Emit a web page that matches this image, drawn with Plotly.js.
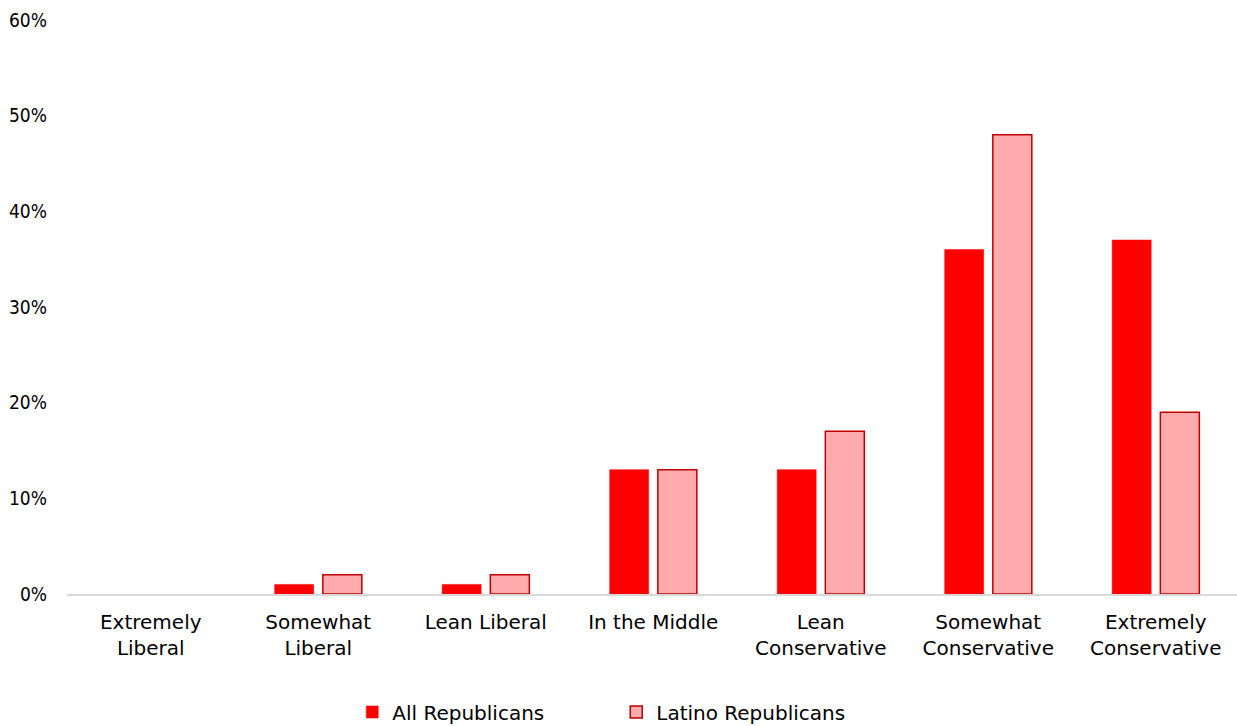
<!DOCTYPE html>
<html>
<head>
<meta charset="utf-8">
<script src="https://cdn.plot.ly/plotly-3.0.1.min.js"></script>
<style>html,body{margin:0;padding:0;background:#fff;}#chart{width:1237px;height:726px;}</style>
</head>
<body>
<div id="chart"></div>
<script>
const categories = ["Extremely<br>Liberal", "Somewhat<br>Liberal", "Lean Liberal", "In the Middle", "Lean<br>Conservative", "Somewhat<br>Conservative", "Extremely<br>Conservative"];
const allRepublicans = [0, 1, 1, 13, 13, 36, 37];
const latinoRepublicans = [0, 2, 2, 13, 17, 48, 19];
const yTicks = [0, 10, 20, 30, 40, 50, 60];
const seriesNames = ["All Republicans", "Latino Republicans"];

const FONT = "'DejaVu Sans', sans-serif";
const FONT_C = "'DejaVu Sans Condensed', 'DejaVu Sans', sans-serif";

// zero-valued bars are hidden (no stroke drawn at the baseline), as in the source chart
const nonZero = arr => arr.map((v, i) => v !== 0 ? i : -1).filter(i => i >= 0);

const data = [
  {
    type: "bar", name: seriesNames[0], x: categories, y: allRepublicans.map(v => v / 100),
    marker: {color: "#FF0000", line: {color: "#FF0000", width: 0.5}},
    selectedpoints: nonZero(allRepublicans),
    selected: {marker: {opacity: 1}}, unselected: {marker: {opacity: 0}},
    hoverinfo: "skip"
  },
  {
    type: "bar", name: seriesNames[1], x: categories, y: latinoRepublicans.map(v => v / 100),
    marker: {color: "#FFABAE", line: {color: "#C00000", width: 1.5}},
    selectedpoints: nonZero(latinoRepublicans),
    selected: {marker: {opacity: 1}}, unselected: {marker: {opacity: 0}},
    hoverinfo: "skip"
  }
];

const layout = {
  width: 1237, height: 726,
  margin: {l: 67, r: 0, t: 20, b: 132},
  paper_bgcolor: "#fff", plot_bgcolor: "#fff",
  font: {family: FONT, size: 20, color: "#000"},
  barmode: "group", bargap: 0.425, bargroupgap: 0.19,
  showlegend: true,
  legend: {
    orientation: "h", x: 0.2438, xanchor: "left", xref: "paper",
    y: 0.0193, yanchor: "middle", yref: "container",
    entrywidth: 219, entrywidthmode: "pixels",
    font: {family: FONT, size: 20, color: "#000"}, traceorder: "normal"
  },
  xaxis: {
    type: "category", range: [-0.5, 6.485], showgrid: false, zeroline: false,
    showline: true, linecolor: "#D9D9D9", linewidth: 1.5,
    ticks: "", ticklabelstandoff: 9, automargin: false,
    tickfont: {family: FONT, size: 20, color: "#000"},
    fixedrange: true
  },
  yaxis: {
    range: [0, 0.6], tickvals: yTicks.map(v => v / 100), ticktext: yTicks.map(v => v + "%"),
    showgrid: false, zeroline: false, showline: false, ticks: "",
    ticklabelstandoff: 19, automargin: false,
    tickfont: {family: FONT_C, size: 19, color: "#000"}, fixedrange: true
  }
};

Plotly.newPlot("chart", data, layout, {displayModeBar: false, staticPlot: true});
</script>
</body>
</html>
